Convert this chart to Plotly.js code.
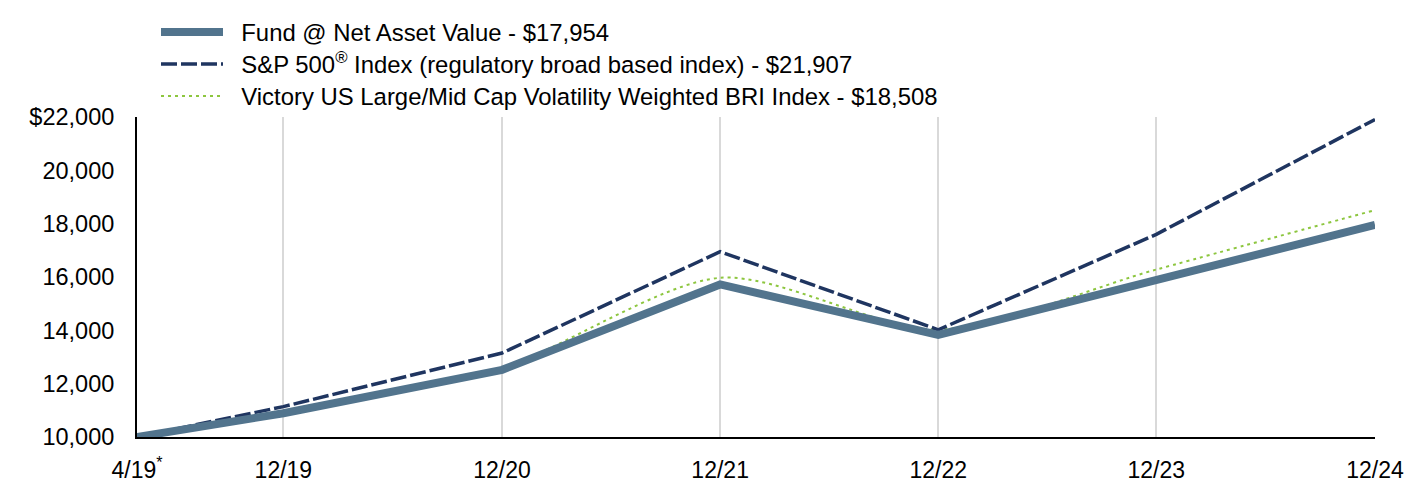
<!DOCTYPE html>
<html><head><meta charset="utf-8">
<script src="https://cdn.plot.ly/plotly-3.0.1.min.js"></script>
<style>html,body{margin:0;padding:0;background:#fff}#chart{width:1428px;height:504px}</style>
</head><body><div id="chart"></div>
<script>
const dates = ['2019-04-30','2019-12-31','2020-12-31','2021-12-31','2022-12-31','2023-12-31','2024-12-31'];
const tickLabels = ['4/19<sup>*</sup>','12/19','12/20','12/21','12/22','12/23','12/24'];
const fundValues = [10000,10890,12520,15720,13830,15910,17954];
const spValues = [10000,11140,13150,16950,14020,17600,21907];
const victoryValues = [10000,10950,12600,15970,14030,16280,18508];
const seriesNames = [
  'Fund @ Net Asset Value - $17,954',
  'S&P 500<sup>®</sup> Index (regulatory broad based index) - $21,907',
  'Victory US Large/Mid Cap Volatility Weighted BRI Index - $18,508'
];
const yTickVals = [10000,12000,14000,16000,18000,20000,22000];
const yTickText = ['10,000','12,000','14,000','16,000','18,000','20,000','$22,000'];

const FONT = 'Liberation Sans, Arial, sans-serif';
const PAD = '\u00a0\u00a0';
// drawn bottom-to-top: Victory, S&P, Fund (each in its own legend row)
const traces = [
  {x: dates, y: victoryValues, name: PAD + seriesNames[2], legend: 'legend3', mode: 'lines', line: {color: '#8dc63f', width: 2, dash: '3px,4px', shape: 'spline', smoothing: 0.8}},
  {x: dates, y: spValues, name: PAD + seriesNames[1], legend: 'legend2', mode: 'lines', line: {color: '#1f3560', width: 3.5, dash: '16px,4px'}},
  {x: dates, y: fundValues, name: PAD + seriesNames[0], legend: 'legend', mode: 'lines', line: {color: '#52748d', width: 8}}
];
function legendAt(topPx) {
  return {
    xref: 'container', yref: 'container', x: 156/1428, y: 1 - topPx/504, xanchor: 'left', yanchor: 'top',
    itemwidth: 62, font: {family: FONT, size: 23.9, color: '#000'}, bgcolor: 'rgba(0,0,0,0)'
  };
}
const layout = {
  width: 1428, height: 504,
  margin: {l: 137, r: 53, t: 117, b: 67, autoexpand: false},
  paper_bgcolor: '#fff', plot_bgcolor: '#fff',
  font: {family: FONT, size: 23, color: '#000'},
  showlegend: true,
  legend: legendAt(10),
  legend2: legendAt(42),
  legend3: legendAt(74),
  xaxis: {
    type: 'date', range: ['2019-04-30','2024-12-31'],
    tickmode: 'array', tickvals: dates, ticktext: tickLabels, tickangle: 0,
    showgrid: true, gridcolor: '#d9d9d9', gridwidth: 2,
    showline: true, linecolor: '#000', linewidth: 2,
    ticks: '', ticklabelstandoff: 11, automargin: false,
    tickfont: {family: FONT, size: 23, color: '#000'},
    zeroline: false, fixedrange: true
  },
  yaxis: {
    range: [10000, 22000], tickmode: 'array', tickvals: yTickVals, ticktext: yTickText,
    showgrid: false, showline: true, linecolor: '#000', linewidth: 2,
    ticks: '', ticklabelstandoff: 16, automargin: false,
    tickfont: {family: FONT, size: 23.5, color: '#000'},
    zeroline: false, fixedrange: true
  }
};
Plotly.newPlot('chart', traces, layout, {displayModeBar: false, staticPlot: true});
</script></body></html>
